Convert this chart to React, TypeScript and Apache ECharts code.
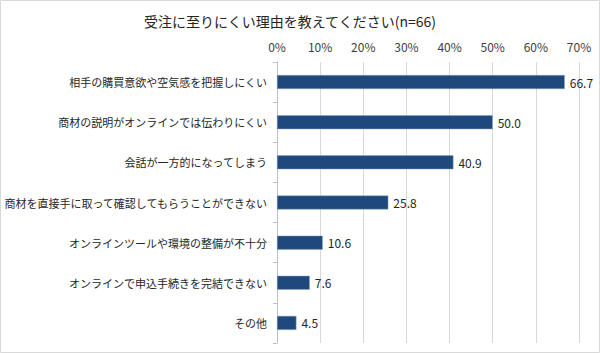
import React, { useEffect, useRef } from "react";
import * as echarts from "echarts";

const title = "受注に至りにくい理由を教えてください(n=66)";
const categories = [
  "相手の購買意欲や空気感を把握しにくい",
  "商材の説明がオンラインでは伝わりにくい",
  "会話が一方的になってしまう",
  "商材を直接手に取って確認してもらうことができない",
  "オンラインツールや環境の整備が不十分",
  "オンラインで申込手続きを完結できない",
  "その他",
];
const values = [66.7, 50.0, 40.9, 25.8, 10.6, 7.6, 4.5];

const FONT = "'Noto Sans CJK JP', 'Noto Sans', sans-serif";

export default function App() {
  const ref = useRef<HTMLDivElement>(null);
  useEffect(() => {
    if (!ref.current) return;
    const chart = echarts.init(ref.current, null, { renderer: "svg" });
    chart.setOption({
      animation: false,
      backgroundColor: "#ffffff",
      textStyle: { fontFamily: FONT },
      title: {
        text: title,
        left: 285,
        textAlign: "center",
        top: 9,
        textStyle: { fontSize: 14, fontWeight: "normal", color: "#262626", fontFamily: FONT },
      },
      graphic: [
        {
          type: "rect",
          shape: { x: 0.5, y: 0.5, width: 599, height: 352 },
          style: { fill: "none", stroke: "#d9d9d9", lineWidth: 1 },
          silent: true,
        },
      ],
      grid: { left: 272, right: 21, top: 62, bottom: 10, containLabel: false },
      xAxis: {
        type: "value",
        position: "top",
        min: 0,
        max: 70,
        interval: 10,
        axisLine: { show: false },
        axisTick: { show: false },
        axisLabel: {
          formatter: "{value}%",
          fontSize: 12,
          color: "#404040",
          margin: 10,
          fontFamily: FONT,
        },
        splitLine: { show: true, lineStyle: { color: "#d9d9d9", width: 1 } },
      },
      yAxis: {
        type: "category",
        inverse: true,
        data: categories,
        axisLine: { show: true, lineStyle: { color: "#bfbfbf" } },
        axisTick: { show: true, length: 4, lineStyle: { color: "#bfbfbf" } },
        axisLabel: { fontSize: 11, color: "#262626", margin: 10, fontFamily: FONT },
      },
      series: [
        {
          type: "bar",
          data: values,
          barWidth: 14,
          itemStyle: { color: "#1F497D", borderColor: "#8ea9c8", borderWidth: 0.5 },
          label: {
            show: true,
            position: "right",
            distance: 5,
            fontSize: 12,
            color: "#262626",
            fontFamily: FONT,
            formatter: (p: any) => Number(p.value).toFixed(1),
          },
        },
      ],
    });
    return () => chart.dispose();
  }, []);
  return (
    <div
      ref={ref}
      style={{ position: "fixed", left: 0, top: 0, width: 600, height: 353 }}
    />
  );
}
